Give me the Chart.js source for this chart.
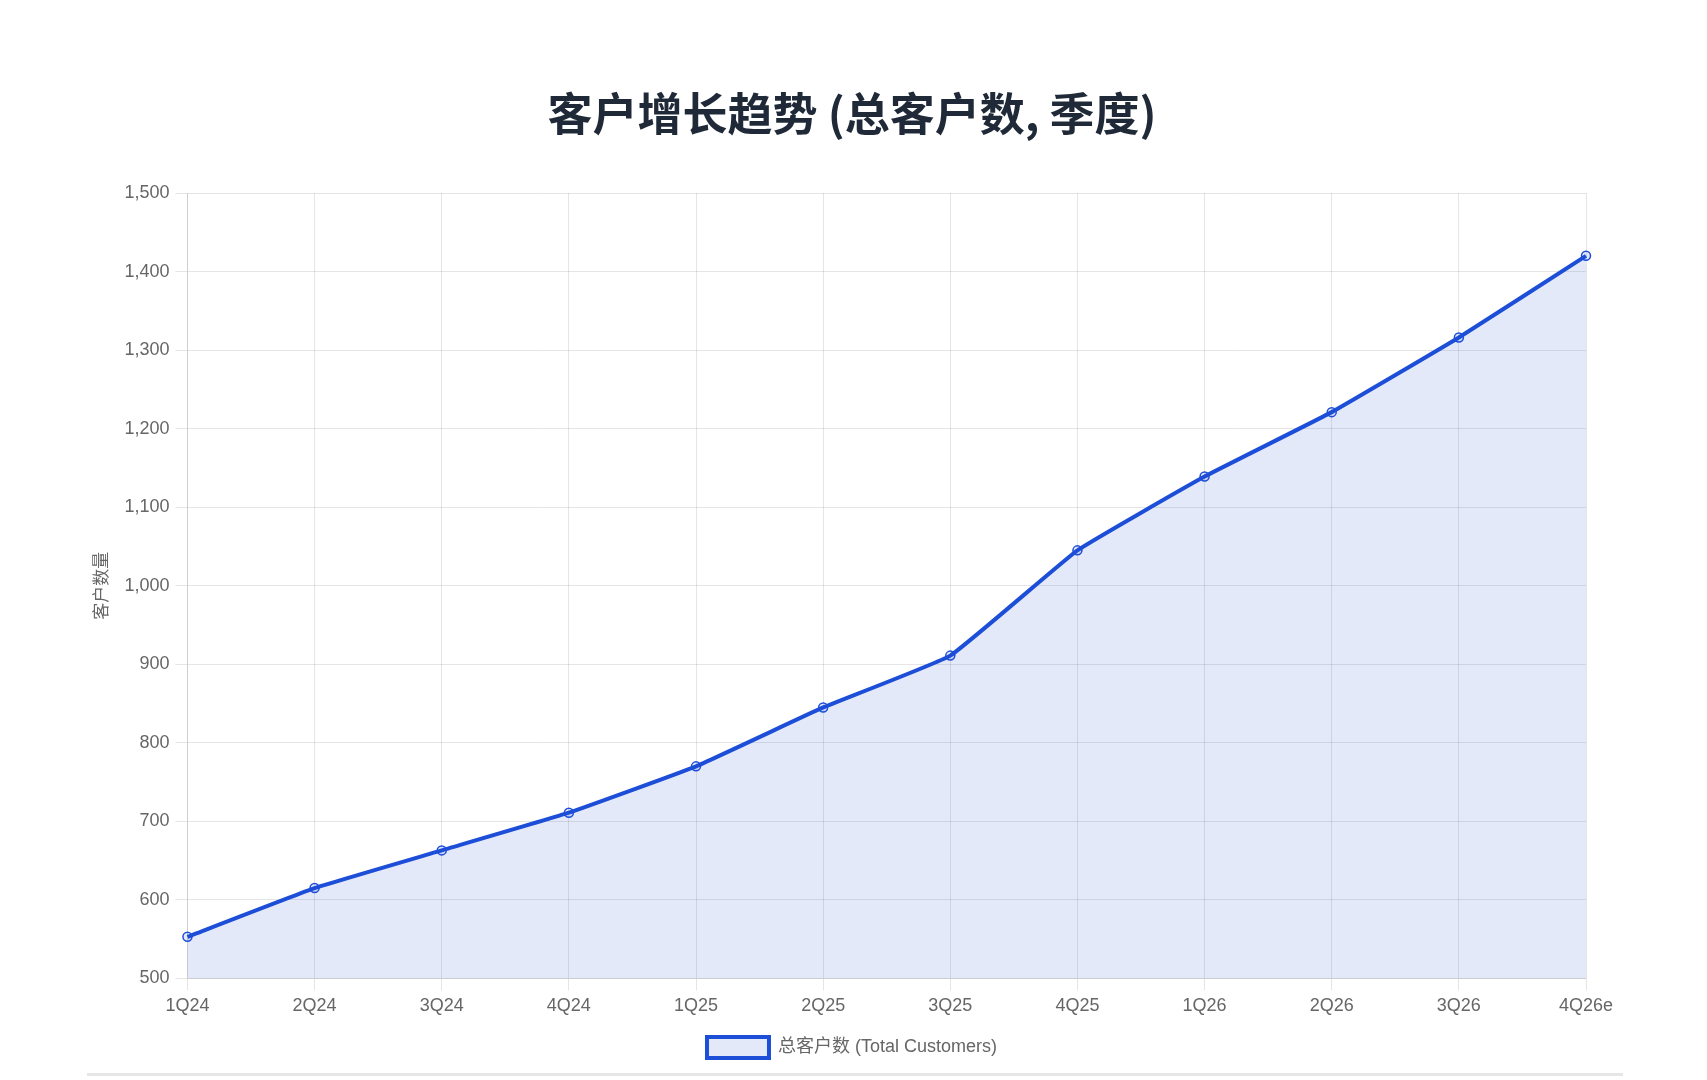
<!DOCTYPE html>
<html>
<head>
<meta charset="utf-8">
<script src="https://cdn.jsdelivr.net/npm/chart.js@4"></script>
<style>
  body { margin: 0; background: #fff; }
  #box { position: absolute; left: 88px; top: 0; width: 1528px; height: 1073px; }
  #rule { position: absolute; left: 87px; top: 1073px; width: 1536px; height: 3px; background: #e6e6e6; }
</style>
</head>
<body>
<div id="box"><canvas id="growthChart"></canvas></div>
<div id="rule"></div>
<script>
// quarterly totals
const quarters = ['1Q24', '2Q24', '3Q24', '4Q24', '1Q25', '2Q25', '3Q25', '4Q25', '1Q26', '2Q26', '3Q26', '4Q26e'];
const totalCustomers = [553, 615, 663, 711, 770, 845, 911, 1045, 1139, 1221, 1316, 1420];
const yMin = 500;
const yMax = 1500;
const yStep = 100;

const uiFont = "'Liberation Sans', 'Noto Sans CJK SC', Arial, sans-serif";
const gray = '#666';

const ctx = document.getElementById('growthChart').getContext('2d');
new Chart(ctx, {
    type: 'line',
    data: {
        labels: quarters,
        datasets: [{
            label: '总客户数 (Total Customers)',
            data: totalCustomers,
            borderColor: '#1d4ed8',
            backgroundColor: 'rgba(29, 78, 216, 0.12)',
            borderWidth: 4,
            fill: true,
            tension: 0.1,
            pointRadius: 4.5,
            pointBorderWidth: 1.5,
            pointBackgroundColor: 'rgba(29, 78, 216, 0.12)',
            pointBorderColor: '#1d4ed8'
        }]
    },
    options: {
        responsive: true,
        maintainAspectRatio: false,
        animation: false,
        layout: { padding: { left: 0, right: 0, bottom: 5 } },
        plugins: {
            title: {
                display: true,
                text: '客户增长趋势 (总客户数, 季度)',
                color: '#1f2937',
                font: { size: 45, weight: 'bold', family: "'Noto Sans CJK SC', sans-serif" },
                padding: { top: 87, bottom: 52 }
            },
            legend: {
                position: 'bottom',
                labels: {
                    boxWidth: 62,
                    boxHeight: 21,
                    padding: 15,
                    color: gray,
                    font: { size: 18, family: uiFont }
                }
            }
        },
        scales: {
            x: {
                grid: { color: 'rgba(0,0,0,0.1)', tickLength: 12 },
                ticks: { color: gray, font: { size: 18, family: uiFont }, padding: 5 },
                // keep room on the right without shifting the centred title
                afterFit: (scale) => { scale.paddingRight = 30; }
            },
            y: {
                min: yMin,
                max: yMax,
                grid: { color: 'rgba(0,0,0,0.1)', tickLength: 12 },
                ticks: { stepSize: yStep, color: gray, font: { size: 18, family: uiFont }, padding: 6 },
                title: {
                    display: true,
                    text: '客户数量',
                    color: gray,
                    font: { size: 17, family: uiFont },
                    padding: { top: 4, bottom: 6 }
                }
            }
        }
    }
});
</script>
</body>
</html>
